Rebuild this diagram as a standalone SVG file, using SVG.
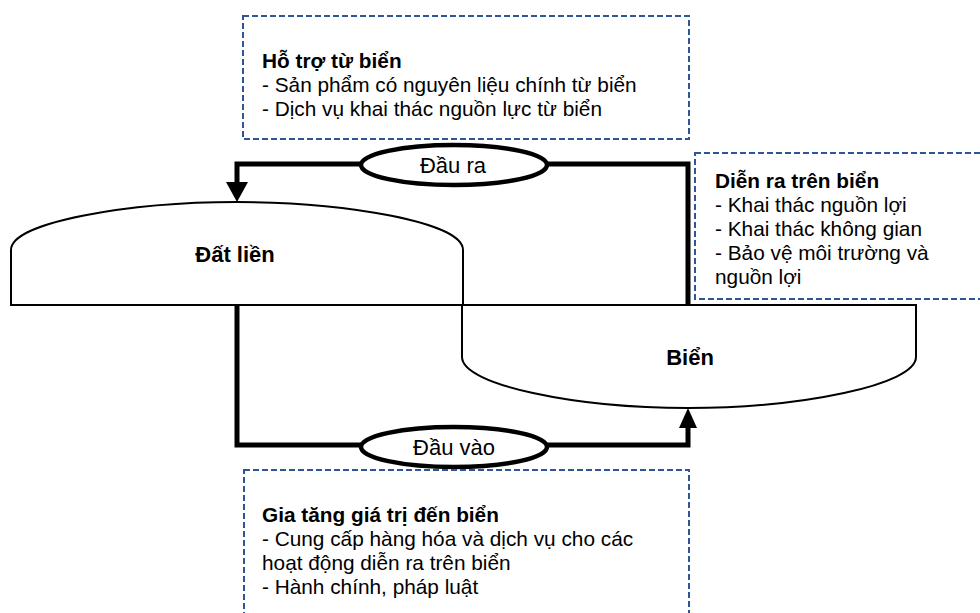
<svg xmlns="http://www.w3.org/2000/svg" width="980" height="613" viewBox="0 0 980 613">
<defs>
<style>
.box{fill:none;stroke:#2F5597;stroke-width:2;stroke-dasharray:6,3}
.shape{fill:#fff;stroke:#000;stroke-width:2}
.oval{fill:#fff;stroke:#000;stroke-width:4.5}
.conn{fill:none;stroke:#000;stroke-width:5;stroke-linejoin:miter}
.t{font-family:"Liberation Sans",Arial,sans-serif;font-size:20.8px;fill:#000}
.b{font-weight:bold}
.lbl{font-family:"Liberation Sans",Arial,sans-serif;font-size:22px;fill:#000;text-anchor:middle}
</style>
</defs>
<rect width="980" height="613" fill="#fff"/>
<g id="dat-lien">
<path class="shape" d="M11,305 L11,250 C11,222 130,202 237,202 C344,202 463,222 463,250 L463,305 Z"/>
<text class="lbl b" x="235" y="262">Đất liền</text>
</g>
<g id="bien">
<path class="shape" d="M462,305 H916 V357 C916,385 800,408 688,408 C576,408 462,385 462,357 Z"/>
<text class="lbl b" x="690" y="365">Biển</text>
</g>
<g id="connectors">
<polyline class="conn" points="362,164 237,164 237,184"/>
<polygon points="226,182 248,182 237,202" fill="#000"/>
<polyline class="conn" points="546,164 688,164 688,305"/>
<polyline class="conn" points="237,305 237,445 362,445"/>
<polyline class="conn" points="546,445 688,445 688,426"/>
<polygon points="679,428 697,428 688,408" fill="#000"/>
</g>
<g id="dau-ra">
<ellipse class="oval" cx="454" cy="165" rx="93" ry="20"/>
<text class="lbl" x="453" y="173">Đầu ra</text>
</g>
<g id="dau-vao">
<ellipse class="oval" cx="454" cy="447" rx="93" ry="20"/>
<text class="lbl" x="454" y="455">Đầu vào</text>
</g>
<g id="ho-tro">
<rect class="box" x="243" y="16" width="446" height="123"/>
<text class="t b" x="262" y="68">Hỗ trợ từ biển</text>
<text class="t" x="262" y="92">- Sản phẩm có nguyên liệu chính từ biển</text>
<text class="t" x="262" y="116">- Dịch vụ khai thác nguồn lực từ biển</text>
</g>
<g id="dien-ra">
<rect class="box" x="695" y="153" width="310" height="146"/>
<text class="t b" x="715" y="188">Diễn ra trên biển</text>
<text class="t" x="715" y="212">- Khai thác nguồn lợi</text>
<text class="t" x="715" y="236">- Khai thác không gian</text>
<text class="t" x="715" y="260">- Bảo vệ môi trường và</text>
<text class="t" x="715" y="284">nguồn lợi</text>
</g>
<g id="gia-tang">
<rect class="box" x="244" y="470" width="445" height="160"/>
<text class="t b" x="262" y="522">Gia tăng giá trị đến biển</text>
<text class="t" x="262" y="546">- Cung cấp hàng hóa và dịch vụ cho các</text>
<text class="t" x="262" y="570">hoạt động diễn ra trên biển</text>
<text class="t" x="262" y="594">- Hành chính, pháp luật</text>
</g>
</svg>
